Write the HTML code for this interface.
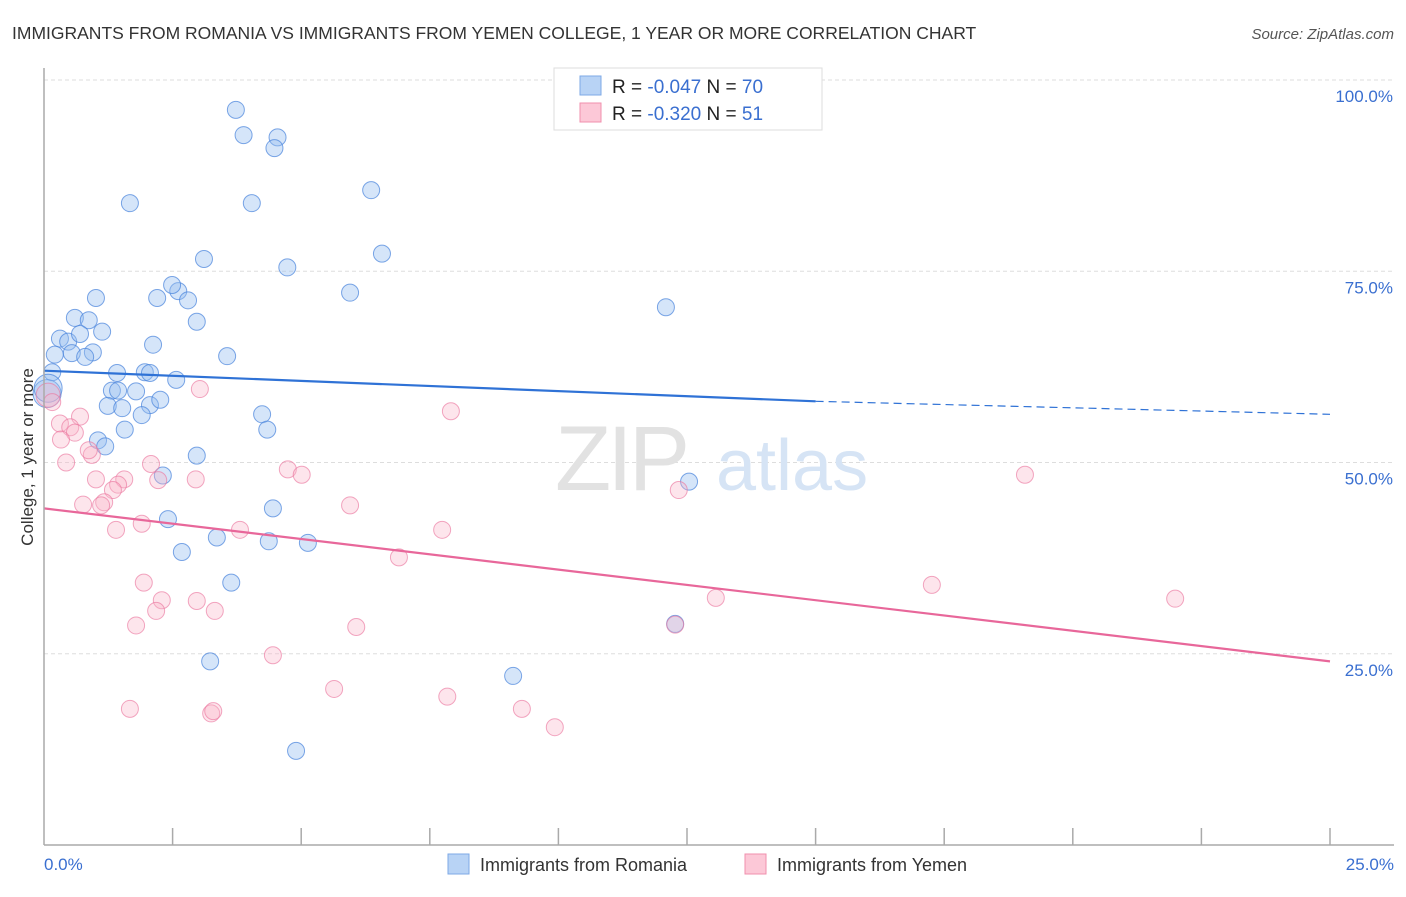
<!DOCTYPE html>
<html><head><meta charset="utf-8"><style>
body{margin:0;background:#fff;font-family:"Liberation Sans",sans-serif;}
svg text{font-family:"Liberation Sans",sans-serif;}
</style></head><body>
<svg id="chart" width="1406" height="892" xmlns="http://www.w3.org/2000/svg">
<text x="12" y="39" font-size="17.5" fill="#333">IMMIGRANTS FROM ROMANIA VS IMMIGRANTS FROM YEMEN COLLEGE, 1 YEAR OR MORE CORRELATION CHART</text>
<text x="1394" y="39" font-size="15" fill="#555" text-anchor="end" font-style="italic">Source: ZipAtlas.com</text>
<g id="grid"></g>
<text x="555" y="490" font-size="92" fill="#e2e2e2" font-family="Liberation Serif" letter-spacing="-4">ZIP</text>
<text x="716" y="490" font-size="72" fill="#d6e4f5">atlas</text>
<g id="pts"></g>
<g id="trend"></g>
<line x1="44" y1="68" x2="44" y2="845" stroke="#aaa" stroke-width="1.5"/>
<line x1="44" y1="845" x2="1394" y2="845" stroke="#aaa" stroke-width="1.5"/>
<g id="ticks"></g>
<text transform="translate(33,457) rotate(-90)" font-size="17" fill="#333" text-anchor="middle">College, 1 year or more</text>
<text x="44" y="870" font-size="17" fill="#3a6fd0">0.0%</text>
<text x="1394" y="870" font-size="17" fill="#3a6fd0" text-anchor="end">25.0%</text>
<g>
<rect x="554" y="68" width="268" height="62" fill="#fff" stroke="#ddd"/>
<rect x="580" y="76" width="21" height="19" fill="#b8d3f5" stroke="#7ea8e6"/>
<rect x="580" y="103" width="21" height="19" fill="#fcc8d7" stroke="#f08fad"/>
<text x="612" y="93" font-size="19" fill="#222">R = <tspan fill="#3a6fd0">-0.047</tspan>   N = <tspan fill="#3a6fd0">70</tspan></text>
<text x="612" y="120" font-size="19" fill="#222">R = <tspan fill="#3a6fd0">-0.320</tspan>   N = <tspan fill="#3a6fd0"> 51</tspan></text>
</g>
<g>
<rect x="448" y="854" width="21" height="20" fill="#b8d3f5" stroke="#7ea8e6"/>
<text x="480" y="871" font-size="18" fill="#333">Immigrants from Romania</text>
<rect x="745" y="854" width="21" height="20" fill="#fcc8d7" stroke="#f08fad"/>
<text x="777" y="871" font-size="18" fill="#333">Immigrants from Yemen</text>
</g>
</svg>
<script>
const romaniaX=[3.73,3.88,4.54,4.48,1.67,4.04,6.36,6.57,3.11,4.73,5.95,2.2,2.61,2.8,2.49,1.01,2.97,12.09,0.6,0.87,1.13,0.31,0.47,0.7,2.12,3.56,0.95,0.54,0.8,0.21,0.16,1.42,1.96,2.06,2.57,1.32,1.44,1.79,1.24,1.52,2.06,2.26,1.9,4.24,4.34,1.57,1.05,1.19,2.97,2.31,12.54,2.41,4.45,3.36,4.37,5.13,2.68,3.64,12.27,3.23,9.12,4.9,0.06,0.08,14.52];
const romaniaY=[96.1,92.8,92.5,91.1,83.9,83.9,85.6,77.3,76.6,75.5,72.2,71.5,72.4,71.2,73.2,71.5,68.4,70.3,68.9,68.6,67.1,66.2,65.8,66.8,65.4,63.9,64.4,64.3,63.8,64.1,61.8,61.7,61.8,61.7,60.8,59.4,59.4,59.3,57.4,57.1,57.5,58.2,56.2,56.3,54.3,54.3,52.9,52.1,50.9,48.3,47.5,42.6,44.0,40.2,39.7,39.5,38.3,34.3,28.9,24.0,22.1,12.3,59.0,59.7,97.0];
const yemenX=[0.08,0.16,0.7,0.31,0.51,0.6,0.33,0.43,0.93,0.87,3.03,7.91,1.01,1.56,1.44,1.34,1.17,1.11,0.76,1.4,1.9,2.08,2.22,2.95,4.74,5.01,5.95,3.81,7.74,6.9,12.34,19.07,1.94,1.79,2.29,2.18,2.97,3.32,6.07,12.27,13.06,17.26,21.99,4.45,5.64,7.84,1.67,3.25,3.29,9.29,9.93];
const yemenY=[58.8,57.9,56.0,55.1,54.6,53.9,53.0,50.0,51.0,51.6,59.6,56.7,47.8,47.8,47.1,46.4,44.8,44.4,44.5,41.2,42.0,49.8,47.7,47.8,49.1,48.4,44.4,41.2,41.2,37.6,46.4,48.4,34.3,28.7,32.0,30.6,31.9,30.6,28.5,28.8,32.3,34.0,32.2,24.8,20.4,19.4,17.8,17.2,17.5,17.8,15.4];
const yTicks=[25,50,75,100];
const yTickLabels=["25.0%","50.0%","75.0%","100.0%"];
const xTicks=[2.5,5,7.5,10,12.5,15,17.5,20,22.5,25];
const blueTrend=[[0,62.0],[15,58.0],[25,56.3]];
const pinkTrend=[[0,44.0],[25,24.0]];
const X=v=>44+v*51.44, Y=v=>845-v*7.65;
const NS="http://www.w3.org/2000/svg";
function mk(t,a,p){const e=document.createElementNS(NS,t);for(const k in a)e.setAttribute(k,a[k]);p.appendChild(e);return e;}
const grid=document.getElementById('grid');
yTicks.forEach((v,i)=>{
 const l=mk('line',{x1:44,x2:1394,y1:Y(v),y2:Y(v),stroke:'#ddd','stroke-dasharray':'4,3'},grid);
 
 
 const t=mk('text',{x:1393,y:Y(v)+22,'font-size':17,fill:'#3a6fd0','text-anchor':'end'},grid);
 t.textContent=yTickLabels[i];
 
 
});
const ticks=document.getElementById('ticks');
xTicks.forEach(v=>{
 const l=mk('line',{x1:X(v),x2:X(v),y1:828,y2:845,stroke:'#aaa','stroke-width':1.5},ticks);
 
 
});
const pts=document.getElementById('pts');
romaniaX.forEach((x,i)=>{
 const big=i>=62&&i<64;
 const c=mk('circle',{cx:X(x),cy:Y(romaniaY[i]),r:big?14:8.5,fill:'rgba(150,190,240,0.4)',stroke:'rgba(70,130,220,0.7)','stroke-width':1},pts);
 
 
});
yemenX.forEach((x,i)=>{
 const c=mk('circle',{cx:X(x),cy:Y(yemenY[i]),r:i==0?12:8.5,fill:'rgba(250,180,200,0.35)',stroke:'rgba(235,120,160,0.65)','stroke-width':1},pts);
 
 
});
const tr=document.getElementById('trend');
let b1=mk('line',{x1:X(blueTrend[0][0]),y1:Y(blueTrend[0][1]),x2:X(blueTrend[1][0]),y2:Y(blueTrend[1][1]),stroke:'#2f72d6','stroke-width':2.2},tr);


let b2=mk('line',{x1:X(blueTrend[1][0]),y1:Y(blueTrend[1][1]),x2:X(blueTrend[2][0]),y2:Y(blueTrend[2][1]),stroke:'#2f72d6','stroke-width':1.2,'stroke-dasharray':'8,5'},tr);


let p1=mk('line',{x1:X(pinkTrend[0][0]),y1:Y(pinkTrend[0][1]),x2:X(pinkTrend[1][0]),y2:Y(pinkTrend[1][1]),stroke:'#e8679a','stroke-width':2.2},tr);


</script>
</body></html>
